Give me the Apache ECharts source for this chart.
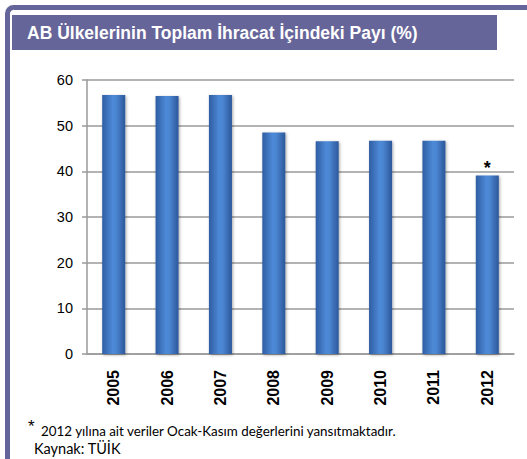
<!DOCTYPE html>
<html><head><meta charset="utf-8">
<script src="https://cdn.jsdelivr.net/npm/echarts@6/dist/echarts.min.js"></script>
<style>
html,body{margin:0;padding:0;background:#fff;}
#c{width:527px;height:459px;position:relative;}
</style></head>
<body><div id="c"></div>
<script>
const years = ['2005','2006','2007','2008','2009','2010','2011','2012'];
const shares = [56.7, 56.5, 56.7, 48.5, 46.6, 46.7, 46.7, 39.1];
const yTicks = [0, 10, 20, 30, 40, 50, 60];
const titleText = 'AB Ülkelerinin Toplam İhracat İçindeki Payı (%)';
const noteMark = '*';
const noteText = '2012 yılına ait veriler Ocak-Kasım değerlerini yansıtmaktadır.';
const sourceText = 'Kaynak: TÜİK';

const chart = echarts.init(document.getElementById('c'), null, {renderer:'svg'});
const frameColor = '#66659a';
const sans = 'Liberation Sans';
const narrow = 'Lato';
chart.setOption({
  animation:false,
  backgroundColor:'#fff',
  grid:{left:87, right:13, top:80, bottom:105},
  xAxis:{
    type:'category', data:years,
    axisLine:{lineStyle:{color:'#9a9a9a', width:1.5}},
    axisTick:{show:false},
    axisLabel:{rotate:90, color:'#000', fontFamily:sans, fontWeight:'bold', fontSize:16, margin:16}
  },
  yAxis:{
    type:'value', min:yTicks[0], max:yTicks[yTicks.length-1], interval:10,
    axisLine:{show:true, lineStyle:{color:'#9a9a9a', width:1.5}},
    axisTick:{show:true, length:5, lineStyle:{color:'#9a9a9a', width:1.5}},
    splitLine:{lineStyle:{color:'#9a9a9a', width:1.5}},
    axisLabel:{color:'#000', fontFamily:sans, fontSize:14.5, margin:14}
  },
  series:[{
    type:'bar', data:shares.map((v,i)=> i===shares.length-1 ? {value:v, label:{show:true}} : v),
    barWidth:23,
    label:{show:false, position:'top', formatter:noteMark, color:'#000', fontSize:18, fontWeight:'bold', fontFamily:sans, distance:-2},
    itemStyle:{
      color:{type:'linear', x:0, y:0, x2:1, y2:0, colorStops:[
        {offset:0, color:'#2f5da3'},
        {offset:0.45, color:'#4d89d6'},
        {offset:0.6, color:'#4b86d2'},
        {offset:1, color:'#2c579a'}
      ]},
      shadowColor:'rgba(0,0,0,0.35)', shadowBlur:3, shadowOffsetX:1, shadowOffsetY:1
    }
  }],
  graphic:[
    {type:'rect', shape:{x:12, y:15, width:485, height:35}, style:{fill:frameColor}, z:10},
    {type:'text', x:27, y:33, style:{text:titleText, fill:'#fff', fontFamily:sans, fontWeight:'bold', fontSize:17.5, verticalAlign:'middle'}, z:11},
    {type:'text', x:28, y:418, style:{text:noteMark, fill:'#000', fontFamily:sans, fontSize:17}, z:11},
    {type:'text', x:41, y:431, style:{text:noteText, fill:'#000', fontFamily:narrow, fontSize:13.4, verticalAlign:'middle', lineHeight:13}, z:11},
    {type:'text', x:34, y:448, style:{text:sourceText, fill:'#000', fontFamily:narrow, fontSize:14.5, verticalAlign:'middle', lineHeight:14}, z:11},
    {type:'rect', shape:{x:7.5, y:7.5, width:540, height:480, r:[6,0,0,0]}, style:{fill:'none', stroke:frameColor, lineWidth:5}, z:12, silent:true}
  ]
});
</script></body></html>
